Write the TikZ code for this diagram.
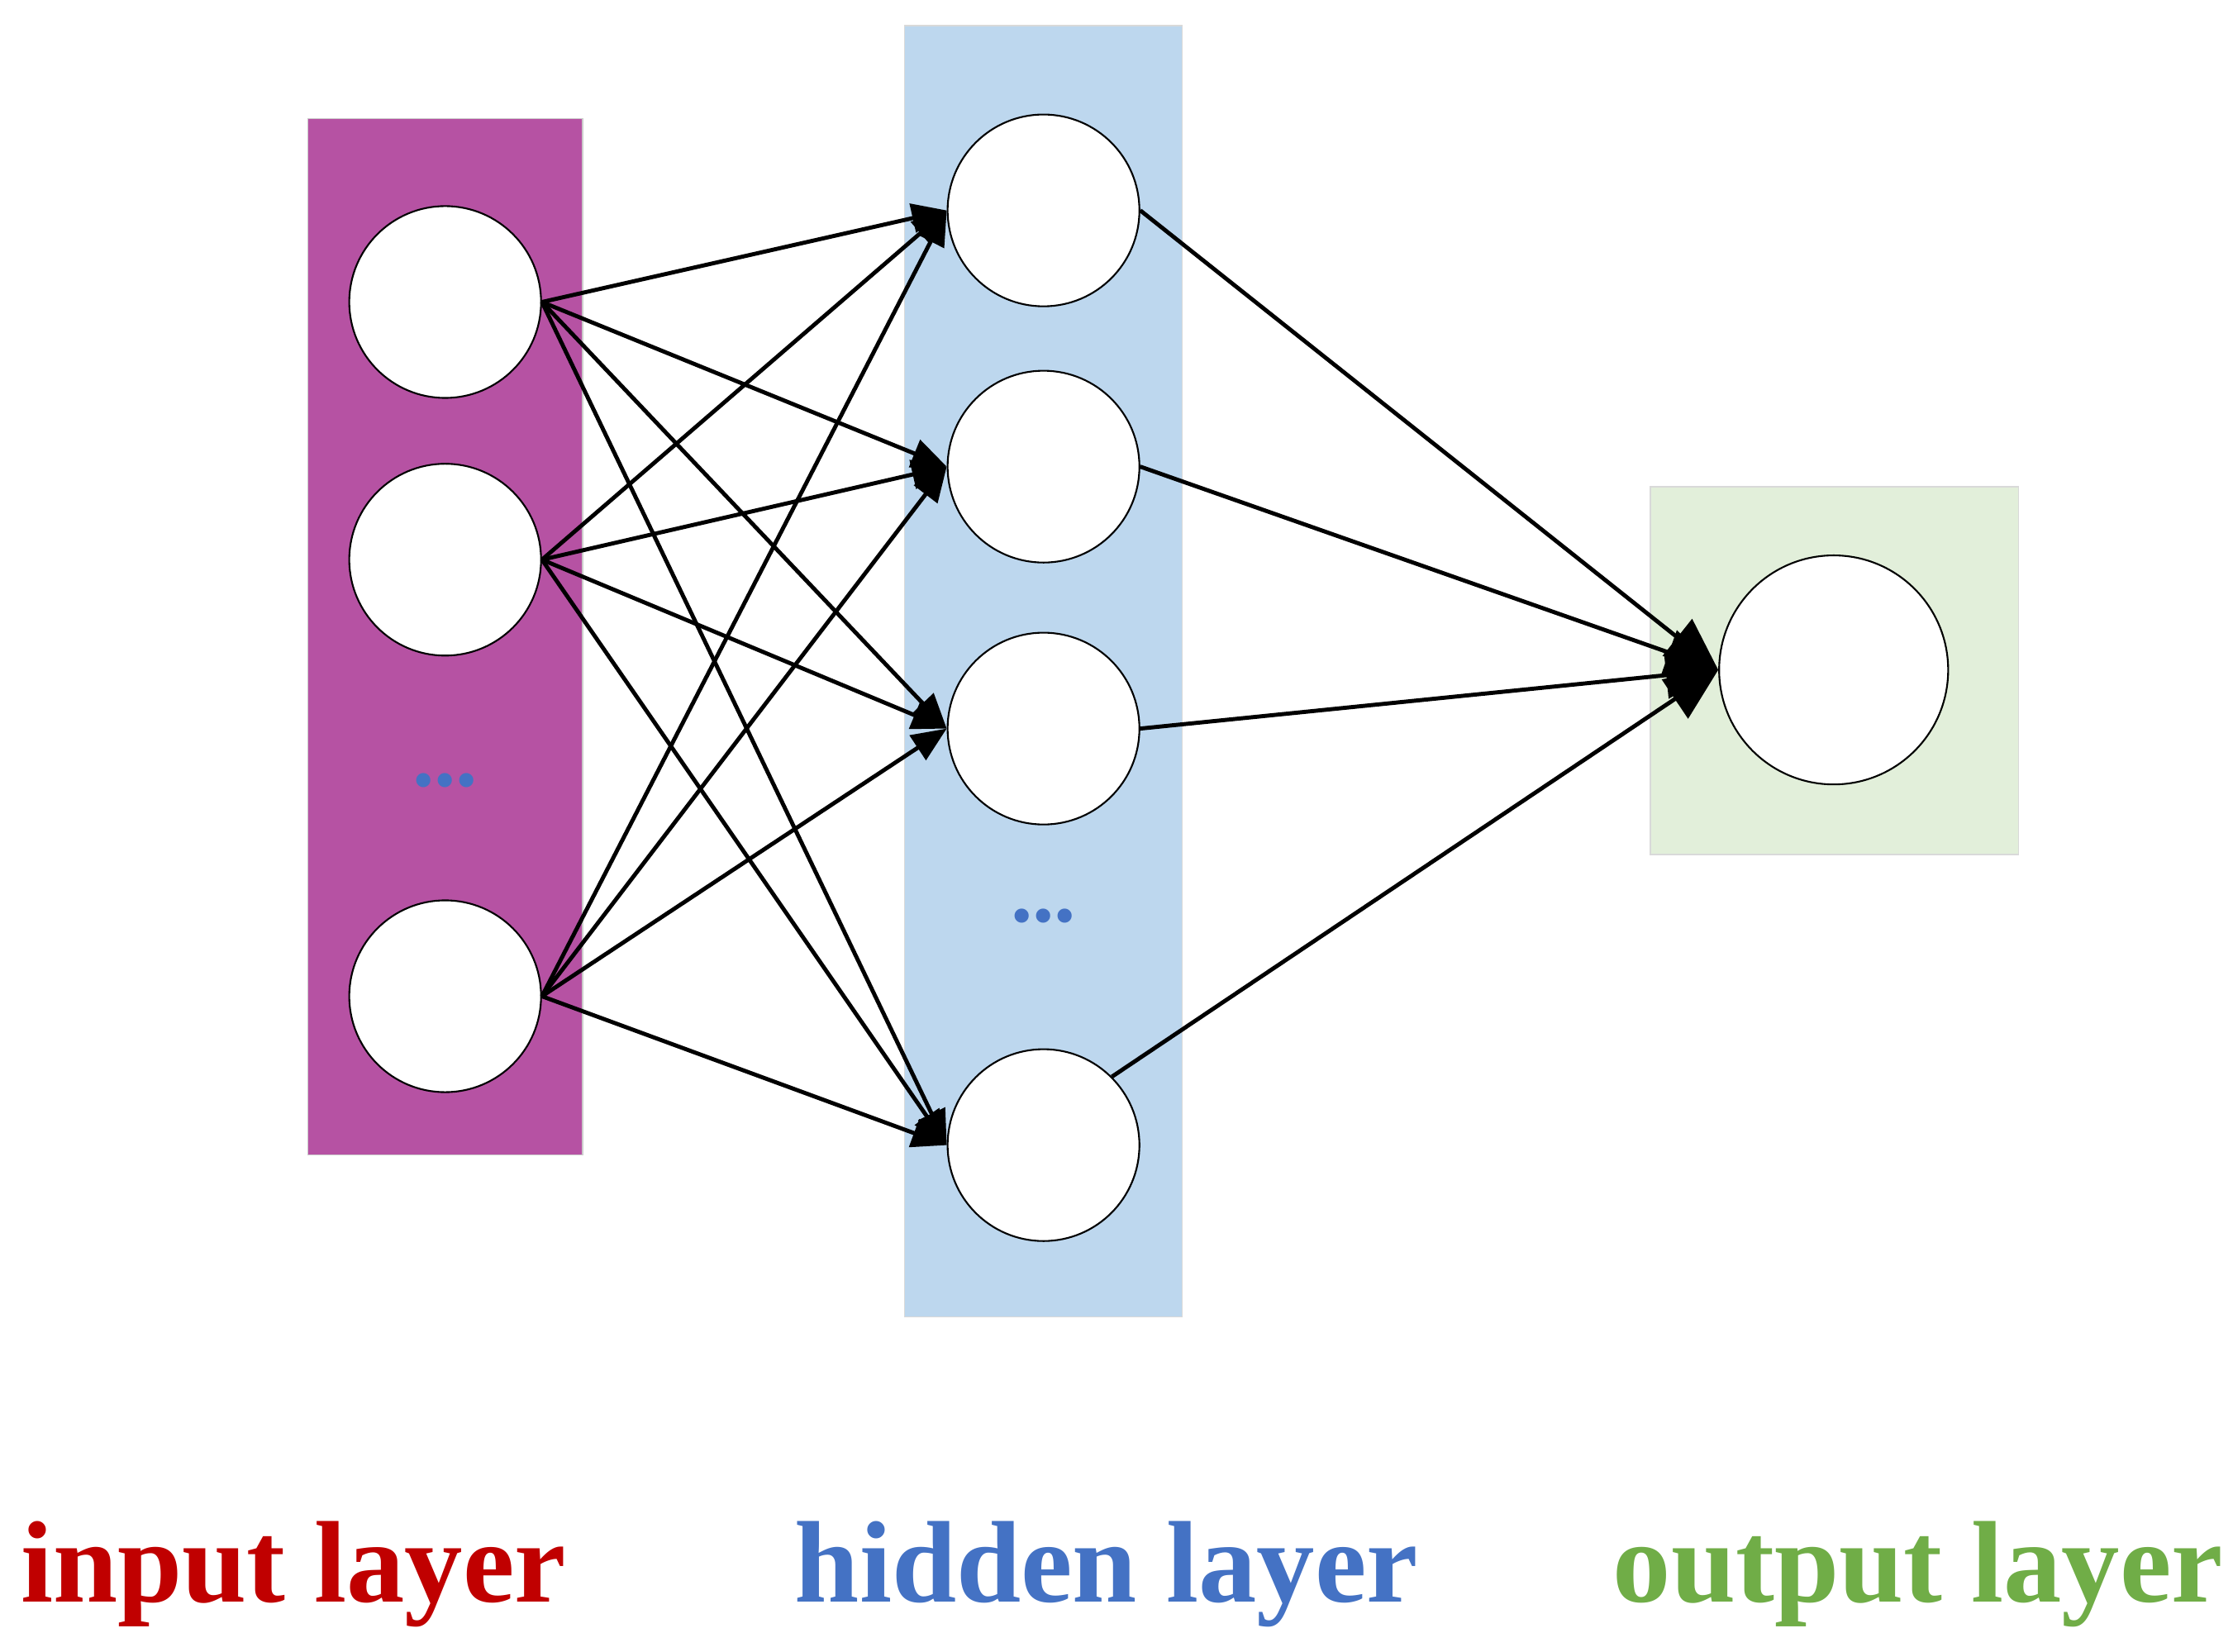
\documentclass[tikz,border=0pt]{standalone}
\usepackage{fontspec}
\setmainfont{Liberation Serif}
\usetikzlibrary{arrows.meta}
\definecolor{inpur}{HTML}{B652A3}
\definecolor{hidbl}{HTML}{BDD7EE}
\definecolor{outgr}{HTML}{E2EFDA}
\definecolor{labred}{HTML}{C00000}
\definecolor{labblue}{HTML}{4472C4}
\definecolor{labgreen}{HTML}{70AD47}
\begin{document}
\begin{tikzpicture}[x=0.01732cm,y=-0.01732cm,
  neuron/.style={circle,draw=black,line width=0.6pt,fill=white,minimum size=134*0.01732cm,inner sep=0pt},
  conn/.style={line width=1.4pt,-{Triangle[length=12pt,width=10pt]}},
  lab/.style={font=\fontsize{40}{44}\selectfont\bfseries},
  dots/.style={text=labblue,font=\fontsize{30}{30}\selectfont\bfseries}]
\useasboundingbox (0,0) rectangle (1560,1154);
\fill[inpur,draw=black!20] (215,83) rectangle (407,807);
\fill[hidbl,draw=black!15] (632,18) rectangle (826,920);
\fill[outgr,draw=black!15] (1153,340) rectangle (1410,597);
\node[neuron] (i1) at (311,211) {};
\node[neuron] (i2) at (311,391) {};
\node[neuron] (i3) at (311,696) {};
\node[dots] (d1) at (311,545) {...};
\node[neuron] (h1) at (729,147) {};
\node[neuron] (h2) at (729,326) {};
\node[neuron] (h3) at (729,509) {};
\node[neuron] (h4) at (729,800) {};
\node[dots] (d2) at (729,640) {...};
\node[neuron,minimum size=160*0.01732cm] (o) at (1281,468) {};
\foreach \i in {1,2,3}{
  \foreach \h in {1,2,3,4}{
    \draw[conn] (i\i.east) -- (h\h.west);
  }
}
\foreach \h in {1,2,3}{
  \draw[conn,-{Triangle[length=18pt,width=16pt]}] (h\h.east) -- (o.west);
}
\draw[conn,-{Triangle[length=18pt,width=16pt]}] (h4.north east) -- (o.west);
\node[lab,text=labred] (l1) at (205,1100) {input layer};
\node[lab,text=labblue] (l2) at (773,1100) {hidden layer};
\node[lab,text=labgreen] (l3) at (1340,1100) {output layer};
\end{tikzpicture}
\end{document}
